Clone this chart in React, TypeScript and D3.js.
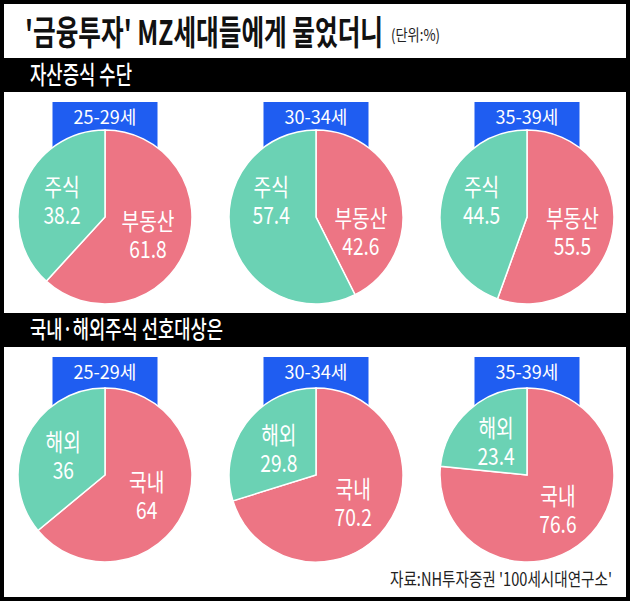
import React from "react";
import * as d3 from "d3";

const ageGroups = ["25-29세", "30-34세", "35-39세"];
const realEstate = [61.8, 42.6, 55.5];
const stocks = [38.2, 57.4, 44.5];
const domestic = [64, 70.2, 76.6];
const overseas = [36, 29.8, 23.4];

const titleText = "'금융투자' MZ세대들에게 물었더니";
const unitText = "(단위:%)";
const section1 = "자산증식 수단";
const section2 = "국내·해외주식 선호대상은";
const sourceText = "자료:NH투자증권 '100세시대연구소'";

const W = 630;
const H = 601;
const PINK = "#ED7584";
const TEAL = "#6BD2B4";
const BLUE = "#1F5DF1";
const FONT = "'Noto Sans CJK KR', 'Noto Sans', sans-serif";

type Slice = { name: string; value: number; color: string; side: number };

const R = 87;
const xPos = d3.scalePoint<string>().domain(ageGroups).range([105, 527]);
const pieGen = d3.pie<Slice>().sort(null).value((d) => d.value);
const arcGen = d3.arc<d3.PieArcDatum<Slice>>().innerRadius(0).outerRadius(R);
const labelArc = d3
  .arc<d3.PieArcDatum<Slice>>()
  .innerRadius(R * 0.53)
  .outerRadius(R * 0.53);

function Pie({ cx, cy, slices, age, boxTop }: { cx: number; cy: number; slices: Slice[]; age: string; boxTop: number }) {
  const arcs = pieGen(slices);
  return (
    <g>
      <rect x={cx - 52.5} y={boxTop} width={105} height={cy - boxTop} fill={BLUE} />
      <text x={cx} y={boxTop + 22} textAnchor="middle" fill="#fff" fontSize={18} fontFamily={FONT}>
        {age}
      </text>
      <g transform={`translate(${cx},${cy})`}>
        {arcs.map((a, i) => (
          <path key={i} d={arcGen(a) || ""} fill={a.data.color} stroke="#fff" strokeWidth={1.5} />
        ))}
        {arcs.map((a, i) => {
          const [lx, c] = labelArc.centroid(a);
          // pink label kept in lower half, teal label in upper half
          const ly = a.data.side > 0 ? Math.max(c, 14) : Math.min(c, -17);
          return (
            <g key={"l" + i} transform={`translate(${lx},${ly}) scale(0.8,1)`} fill="#fff" fontFamily={FONT} fontSize={24} textAnchor="middle">
              <text y={-4}>{a.data.name}</text>
              <text y={24}>{a.data.value}</text>
            </g>
          );
        })}
      </g>
    </g>
  );
}

export default function App() {
  const row1Y = 217;
  const row2Y = 475;
  return (
    <svg width={W} height={H} style={{ position: "absolute", left: 0, top: 0, background: "#fff" }}>
      <rect x={0} y={0} width={W} height={H} fill="#fff" />
      <text x={25} y={45} fontSize={34} fontWeight={700} fontFamily={FONT} fill="#111" textLength={358} lengthAdjust="spacingAndGlyphs">
        {titleText}
      </text>
      <text x={391} y={41} fontSize={16} fontFamily={FONT} fill="#222" textLength={49} lengthAdjust="spacingAndGlyphs">
        {unitText}
      </text>

      <rect x={0} y={58} width={W} height={34} fill="#000" />
      <text x={30} y={84} fontSize={25} fontWeight={500} fontFamily={FONT} fill="#fff" textLength={102} lengthAdjust="spacingAndGlyphs">
        {section1}
      </text>

      {ageGroups.map((age, i) => (
        <Pie
          key={"a" + i}
          cx={xPos(age)!}
          cy={row1Y}
          age={age}
          boxTop={102}
          slices={[
            { name: "부동산", value: realEstate[i], color: PINK, side: 1 },
            { name: "주식", value: stocks[i], color: TEAL, side: -1 },
          ]}
        />
      ))}

      <rect x={0} y={313} width={W} height={34} fill="#000" />
      <text x={30} y={338} fontSize={24} fontWeight={500} fontFamily={FONT} fill="#fff" textLength={193} lengthAdjust="spacingAndGlyphs">
        {section2}
      </text>

      {ageGroups.map((age, i) => (
        <Pie
          key={"b" + i}
          cx={xPos(age)!}
          cy={row2Y}
          age={age}
          boxTop={357}
          slices={[
            { name: "국내", value: domestic[i], color: PINK, side: 1 },
            { name: "해외", value: overseas[i], color: TEAL, side: -1 },
          ]}
        />
      ))}

      <text x={612} y={586} textAnchor="end" fontSize={18} fontFamily={FONT} fill="#222" textLength={222} lengthAdjust="spacingAndGlyphs">
        {sourceText}
      </text>

      <rect x={2} y={2} width={W - 4} height={H - 4} fill="none" stroke="#000" strokeWidth={4} />
    </svg>
  );
}
